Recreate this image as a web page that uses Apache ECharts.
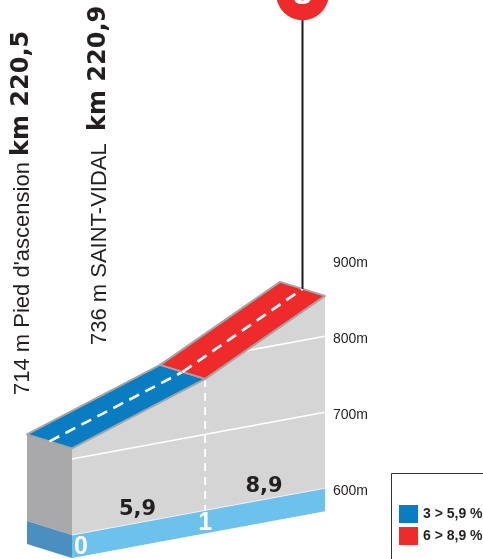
<!DOCTYPE html>
<html>
<head>
<meta charset="utf-8">
<script src="https://cdn.jsdelivr.net/npm/echarts@6/dist/echarts.min.js"></script>
<style>
  html, body { margin: 0; padding: 0; background: #fff; }
  #chart { width: 483px; height: 559px; }
</style>
</head>
<body>
<div id="chart"></div>
<script>
// Climb profile: distance from the foot (km) and altitude (m) at each gradient change
const kmPoints = [0, 1, 1.9];
const altitudes = [714, 773, 853];
const gradientLabels = ['5,9', '8,9'];
const kmLabels = ['0', '1'];
const altTicks = [600, 700, 800, 900];
const classNames = ['3 > 5,9 %', '6 > 8,9 %'];
const placeNames = ["714 m Pied d'ascension", '736 m SAINT-VIDAL'];
const placeKm = ['km 220,5', 'km 220,9'];
const summitMark = '8';

// Drawing constants
const ALT_MIN = 600, ALT_MAX = 1000;
const SKEW = 0.185;          // base plane rises to the right (px per px)
const DEPTH = [-45, -14];    // offset of the back edge of the road
const BAND = 23;             // thickness of the blue base band
const GRID = { left: 72, top: 231, width: 253, height: 304 };
const LABEL_SHIFT = 3;       // altitude labels sit slightly under their lines
const ROAD_COLORS = ['#0a7dc2', '#ee2a2b'];
const PLACE_POS = [[20, 395], [97, 345]];
const PLACE_GAP = [' ', '  '];
const INK = '#231f20';
const SANS = "'Liberation Sans', Arial, sans-serif";

const add = (p, d) => [p[0] + d[0], p[1] + d[1]];
const mid = (a, b) => [(a[0] + b[0]) / 2, (a[1] + b[1]) / 2];

// Maps (km, altitude) through the grid's axes, then shears onto the slanted base plane
function projector(api) {
  const x0 = api.coord([kmPoints[0], ALT_MIN])[0];
  return (km, alt) => {
    const c = api.coord([km, alt]);
    return [c[0], c[1] - SKEW * (c[0] - x0)];
  };
}

// Distance at which the profile first reaches a given altitude
function crossingKm(alt) {
  if (alt <= altitudes[0]) return kmPoints[0];
  for (let i = 0; i < altitudes.length - 1; i++) {
    if (alt > altitudes[i] && alt <= altitudes[i + 1]) {
      const t = (alt - altitudes[i]) / (altitudes[i + 1] - altitudes[i]);
      return kmPoints[i] + t * (kmPoints[i + 1] - kmPoints[i]);
    }
  }
  return null;
}

function poly(points, style) {
  return { type: 'polygon', shape: { points }, style };
}
function seg(a, b, style) {
  return { type: 'line', shape: { x1: a[0], y1: a[1], x2: b[0], y2: b[1] }, style };
}

function renderTerrain(params, api) {
  const P = projector(api);
  const last = kmPoints.length - 1;
  const kEnd = kmPoints[last];
  const base0 = P(kmPoints[0], ALT_MIN);
  const baseEnd = P(kEnd, ALT_MIN);
  const top0 = P(kmPoints[0], altitudes[0]);
  const children = [];

  // front face
  const front = [base0].concat(kmPoints.map((k, i) => P(k, altitudes[i]))).concat([baseEnd]);
  children.push(poly(front, { fill: '#d5d5d5' }));
  // left side face
  children.push(poly([top0, add(top0, DEPTH), add(base0, DEPTH), base0], { fill: '#a9a9ab' }));
  // base band, front and side
  children.push(poly([base0, baseEnd, add(baseEnd, [0, BAND]), add(base0, [0, BAND])], { fill: '#6dc1ed' }));
  const b0d = add(base0, DEPTH);
  children.push(poly([base0, b0d, add(b0d, [0, BAND]), add(base0, [0, BAND])], { fill: '#4b8fc1' }));
  children.push(seg(base0, baseEnd, { stroke: '#f2f2f2', lineWidth: 1 }));

  // altitude grid lines on the front face
  altTicks.forEach(alt => {
    if (alt <= ALT_MIN) return;
    const k = crossingKm(alt);
    if (k === null) return;
    children.push(seg(P(k, alt), P(kEnd, alt), { stroke: '#ffffff', lineWidth: 1.6 }));
  });

  // km markers
  kmLabels.forEach((lab, i) => {
    const k = kmPoints[i];
    const b = P(k, ALT_MIN);
    if (i > 0 && i < last) {
      children.push(seg(P(k, altitudes[i]), b, { stroke: '#ffffff', lineWidth: 2, lineDash: [8, 6] }));
    }
    children.push({
      type: 'text',
      x: b[0] + (i === 0 ? 2 : 0), y: b[1] + BAND / 2 + 1,
      style: {
        text: lab, fill: '#ffffff', align: i === 0 ? 'left' : 'center', verticalAlign: 'middle',
        fontFamily: SANS, fontWeight: 'bold', fontSize: 25
      }
    });
  });

  // gradient of each section
  gradientLabels.forEach((lab, i) => {
    const b = P((kmPoints[i] + kmPoints[i + 1]) / 2, ALT_MIN);
    children.push({
      type: 'text', x: b[0] - 1, y: b[1] - 13,
      style: {
        text: lab, fill: INK, align: 'center', verticalAlign: 'middle',
        fontFamily: "'DejaVu Sans', sans-serif", fontWeight: 'bold', fontSize: 21
      }
    });
  });

  return { type: 'group', children };
}

function renderRoad(params, api) {
  const P = projector(api);
  const f0 = P(api.value(0), api.value(1));
  const f1 = P(api.value(2), api.value(3));
  const b0 = add(f0, DEPTH), b1 = add(f1, DEPTH);
  return {
    type: 'group',
    children: [
      poly([f0, f1, b1, b0], { fill: api.visual('color'), stroke: '#a4a4a4', lineWidth: 2, lineJoin: 'round' }),
      seg(mid(f0, b0), mid(f1, b1), { stroke: '#ffffff', lineWidth: 2.6, lineDash: [11, 7] })
    ]
  };
}

function renderSummit(params, api) {
  const P = projector(api);
  const f = P(api.value(0), api.value(1));
  const c = mid(f, add(f, DEPTH));
  return {
    type: 'group',
    children: [
      seg(c, [c[0], 12], { stroke: '#1a1a1a', lineWidth: 2 }),
      { type: 'circle', shape: { cx: c[0], cy: -6, r: 26.3 }, style: { fill: '#ee2a2b' } },
      {
        type: 'text', x: c[0], y: -4,
        style: {
          text: summitMark, fill: '#ffffff', align: 'center', verticalAlign: 'middle',
          fontFamily: "'DejaVu Sans', sans-serif", fontWeight: 'bold', fontSize: 30
        }
      }
    ]
  };
}

const chart = echarts.init(document.getElementById('chart'), null, { renderer: 'canvas' });

const roadSeries = classNames.map((name, i) => ({
  type: 'custom',
  name,
  coordinateSystem: 'cartesian2d',
  xAxisIndex: 0, yAxisIndex: 0,
  itemStyle: { color: ROAD_COLORS[i] },
  clip: false,
  z: 3,
  renderItem: renderRoad,
  data: [[kmPoints[i], altitudes[i], kmPoints[i + 1], altitudes[i + 1]]]
}));

const placeLabels = placeNames.map((name, i) => ({
  type: 'text',
  x: PLACE_POS[i][0], y: PLACE_POS[i][1],
  rotation: Math.PI / 2,
  style: {
    text: '{n|' + name + '}' + PLACE_GAP[i] + '{k|' + placeKm[i] + '}',
    fill: INK, align: 'left', verticalAlign: 'middle',
    fontFamily: SANS, fontSize: 22,
    rich: {
      n: { fontFamily: SANS, fontSize: 22, fill: INK, lineHeight: 28, verticalAlign: 'bottom' },
      k: { fontFamily: "'DejaVu Sans', sans-serif", fontWeight: 'bold', fontSize: 24, fill: INK, lineHeight: 28, verticalAlign: 'bottom' }
    }
  }
}));

// frame of the gradient key, running off the bottom-right corner
const keyFrame = {
  type: 'rect',
  shape: { x: 391.5, y: 473.5, width: 200, height: 200 },
  style: { fill: 'none', stroke: '#333333', lineWidth: 1 }
};

chart.setOption({
  animation: false,
  backgroundColor: '#ffffff',
  grid: [
    GRID,
    { left: GRID.left, top: GRID.top - SKEW * GRID.width + LABEL_SHIFT, width: GRID.width, height: GRID.height }
  ],
  xAxis: [
    { type: 'value', gridIndex: 0, min: kmPoints[0], max: kmPoints[kmPoints.length - 1], show: false },
    { type: 'value', gridIndex: 1, min: kmPoints[0], max: kmPoints[kmPoints.length - 1], show: false }
  ],
  yAxis: [
    { type: 'value', gridIndex: 0, min: ALT_MIN, max: ALT_MAX, show: false },
    {
      type: 'value', gridIndex: 1, position: 'right', min: ALT_MIN, max: ALT_MAX, interval: 100,
      axisLine: { show: false }, axisTick: { show: false }, splitLine: { show: false },
      axisLabel: {
        margin: 8, color: INK, fontFamily: SANS, fontSize: 14,
        formatter: v => altTicks.indexOf(v) >= 0 ? v + 'm' : ''
      }
    }
  ],
  legend: {
    orient: 'vertical',
    left: 399, top: 505,
    padding: 0,
    itemWidth: 19, itemHeight: 18, itemGap: 4,
    icon: 'rect',
    selectedMode: false,
    data: classNames,
    textStyle: { color: INK, fontFamily: SANS, fontWeight: 'bold', fontSize: 14 }
  },
  graphic: placeLabels.concat([keyFrame]),
  series: [
    {
      type: 'custom',
      name: 'terrain',
      coordinateSystem: 'cartesian2d',
      xAxisIndex: 0, yAxisIndex: 0,
      clip: false,
      z: 2,
      renderItem: renderTerrain,
      data: [[kmPoints[0], altitudes[0]]]
    }
  ].concat(roadSeries).concat([
    {
      type: 'custom',
      name: 'summit',
      coordinateSystem: 'cartesian2d',
      xAxisIndex: 0, yAxisIndex: 0,
      clip: false,
      z: 4,
      renderItem: renderSummit,
      data: [[kmPoints[kmPoints.length - 1], altitudes[altitudes.length - 1]]]
    }
  ])
});
</script>
</body>
</html>
